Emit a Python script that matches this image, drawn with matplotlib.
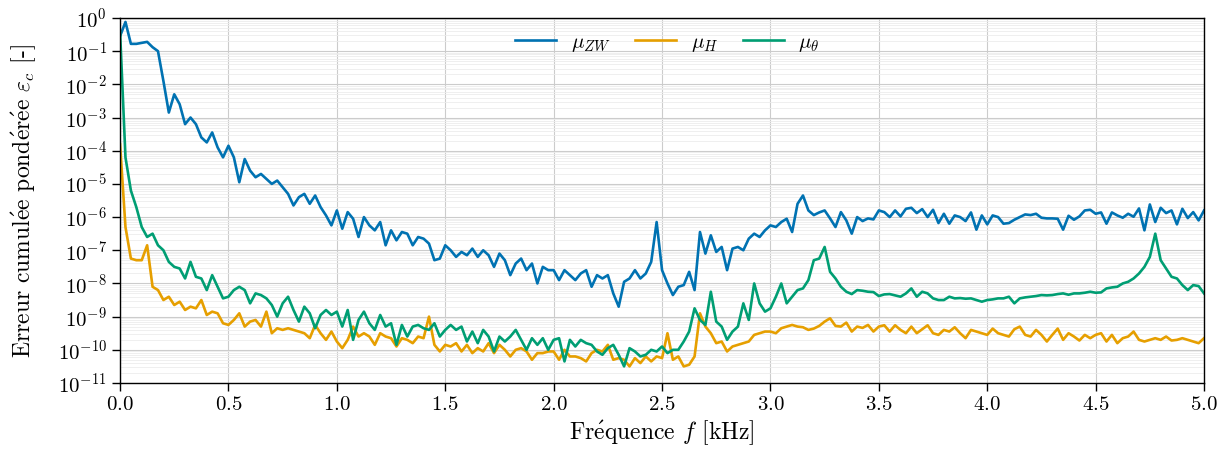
import numpy as np
import matplotlib
matplotlib.use("Agg")
import matplotlib.pyplot as plt
from matplotlib.ticker import LogLocator, MultipleLocator, NullFormatter

# log10 of the weighted cumulative error, sampled every 0.025 kHz from 0 to 5 kHz
freq_khz = np.linspace(0.0, 5.0, 201)

log_mu_zw = [
    -0.55, -0.12, -0.78, -0.78, -0.75, -0.72, -0.88, -1.0,
    -1.9, -2.85, -2.3, -2.6, -3.2, -3.0, -3.2, -3.6,
    -3.75, -3.45, -3.9, -4.2, -3.85, -4.2, -4.95, -4.25,
    -4.6, -4.8, -4.7, -4.85, -5.0, -4.9, -5.1, -5.3,
    -5.65, -5.4, -5.3, -5.6, -5.35, -5.7, -5.95, -6.25,
    -5.8, -6.35, -5.85, -6.05, -6.6, -6.0, -6.25, -6.4,
    -6.15, -6.85, -6.4, -6.7, -6.45, -6.5, -6.85, -6.6,
    -6.65, -6.8, -7.3, -7.25, -6.85, -7.0, -7.2, -7.05,
    -7.15, -6.95, -7.2, -7.0, -7.15, -7.5, -7.1, -7.3,
    -7.75, -7.4, -7.25, -7.6, -7.4, -8.0, -7.5, -7.6,
    -7.6, -7.9, -7.6, -7.75, -7.9, -7.7, -7.6, -8.1,
    -7.75, -7.85, -7.75, -8.3, -8.7, -7.95, -7.85, -7.6,
    -7.85, -7.7, -7.35, -6.15, -7.6, -8.0, -8.35, -8.1,
    -8.05, -7.65, -8.2, -6.45, -7.1, -6.55, -7.05, -6.9,
    -7.6, -6.95, -6.9, -7.0, -6.65, -6.5, -6.6, -6.4,
    -6.25, -6.3, -6.15, -6.05, -6.45, -5.6, -5.35, -5.8,
    -5.94, -5.86, -5.8, -6.04, -6.3, -5.85, -6.1, -6.5,
    -6.0, -6.12, -6.04, -6.07, -5.8, -5.85, -6.0, -5.8,
    -5.98, -5.75, -5.72, -5.88, -5.76, -6.0, -5.78, -6.18,
    -5.9, -6.2, -5.95, -6.0, -6.12, -5.86, -6.38, -5.95,
    -6.22, -5.95, -6.0, -6.2, -6.18, -6.08, -6.0, -5.92,
    -5.94, -5.9, -6.02, -6.04, -6.04, -6.05, -6.38, -5.96,
    -6.08, -5.98, -5.8, -5.78, -5.9, -5.86, -6.2, -5.86,
    -5.95, -6.02, -5.9, -5.99, -5.74, -6.4, -5.62, -6.15,
    -5.72, -5.88, -5.8, -6.22, -5.75, -6.03, -5.85, -6.1,
    -5.8,
]

log_mu_h = [
    -3.8, -6.3, -7.25, -7.3, -7.3, -6.85, -8.1, -8.2,
    -8.5, -8.4, -8.65, -8.55, -8.8, -8.7, -8.75, -8.5,
    -8.95, -8.85, -8.9, -9.2, -9.25, -9.1, -8.9, -9.3,
    -9.15, -9.1, -9.3, -8.85, -9.5, -9.35, -9.4, -9.35,
    -9.4, -9.45, -9.5, -9.65, -9.25, -9.5, -9.7, -9.45,
    -9.75, -9.95, -9.7, -9.3, -9.6, -9.5, -9.6, -9.85,
    -9.5, -9.6, -9.65, -9.9, -9.65, -9.7, -9.8, -9.6,
    -9.65, -9.0, -9.85, -10.05, -9.85, -9.9, -9.8, -10.05,
    -9.85, -10.1, -9.95, -10.05, -9.8, -10.1, -9.85, -10.0,
    -10.2, -10.0, -9.95, -10.05, -10.3, -10.1, -10.1, -10.05,
    -10.05, -10.3, -10.0, -10.2, -10.2, -10.25, -10.35, -10.1,
    -10.0, -10.05, -9.85, -10.3, -10.25, -10.3, -10.5, -10.25,
    -10.4, -10.2, -10.35, -10.2, -10.25, -9.5, -10.3, -10.2,
    -10.5, -10.45, -10.2, -8.9, -9.3, -9.5, -9.8, -9.75,
    -10.05, -9.9, -9.85, -9.8, -9.75, -9.55, -9.5, -9.45,
    -9.45, -9.5, -9.35, -9.3, -9.25, -9.3, -9.32, -9.4,
    -9.36, -9.28, -9.15, -9.05, -9.28, -9.3, -9.18, -9.45,
    -9.3, -9.34, -9.25, -9.45, -9.3, -9.26, -9.45, -9.26,
    -9.4, -9.5, -9.3, -9.5, -9.38, -9.26, -9.5, -9.55,
    -9.4, -9.45, -9.32, -9.5, -9.65, -9.4, -9.45, -9.5,
    -9.55, -9.36, -9.5, -9.55, -9.6, -9.38, -9.3, -9.55,
    -9.6, -9.4, -9.55, -9.75, -9.55, -9.36, -9.7, -9.5,
    -9.6, -9.72, -9.55, -9.65, -9.55, -9.5, -9.75, -9.55,
    -9.8, -9.65, -9.6, -9.45, -9.7, -9.75, -9.7, -9.65,
    -9.7, -9.6, -9.72, -9.7, -9.65, -9.7, -9.75, -9.8,
    -9.65,
]

log_mu_theta = [
    -0.4, -4.2, -5.2, -5.7, -6.3, -6.6, -6.5, -6.85,
    -7.0, -7.35, -7.5, -7.55, -7.85, -7.35, -7.8, -7.85,
    -8.2, -7.75, -8.1, -8.45, -8.4, -8.2, -8.1, -8.2,
    -8.6, -8.3, -8.35, -8.45, -8.65, -9.0, -8.6, -8.4,
    -8.8, -9.15, -8.7, -8.9, -9.35, -8.95, -8.8, -8.95,
    -8.85, -9.3, -8.8, -9.7, -9.1, -8.85, -9.2, -9.4,
    -8.95, -9.3, -9.2, -9.85, -9.25, -9.6, -9.3, -9.25,
    -9.35, -9.4, -9.2, -9.6, -9.4, -9.25, -9.4, -9.3,
    -9.75, -9.45, -9.8, -9.4, -9.6, -10.05, -9.6, -9.75,
    -9.6, -9.4, -9.7, -10.0, -9.65, -9.85, -9.65, -10.0,
    -9.7, -9.65, -10.35, -9.7, -9.9, -9.7, -9.8, -9.85,
    -10.05, -10.15, -9.95, -9.85, -10.15, -10.5, -9.95, -10.05,
    -10.2, -10.15, -10.0, -10.05, -9.9, -10.1, -10.0, -10.0,
    -9.75, -9.45, -8.75, -9.1, -9.25, -8.25, -9.15, -9.3,
    -9.7, -9.45, -9.3, -8.6, -9.1, -8.0, -8.6, -8.85,
    -8.75, -8.4, -8.0, -8.6, -8.4, -8.2, -8.15, -7.9,
    -7.3, -7.25, -6.9, -7.65, -7.85, -8.1, -8.25, -8.32,
    -8.2, -8.22, -8.25, -8.26, -8.38, -8.33, -8.32, -8.36,
    -8.4, -8.3, -8.15, -8.4, -8.25, -8.3, -8.45, -8.5,
    -8.5, -8.4, -8.45, -8.44, -8.46, -8.45, -8.5, -8.55,
    -8.5, -8.48, -8.45, -8.45, -8.4, -8.6, -8.45, -8.42,
    -8.4, -8.38, -8.35, -8.36, -8.35, -8.32, -8.3, -8.34,
    -8.3, -8.3, -8.28, -8.25, -8.28, -8.27, -8.15, -8.12,
    -8.1, -8.0, -7.95, -7.85, -7.7, -7.5, -7.2, -6.5,
    -7.3, -7.55, -7.8, -7.85, -8.05, -8.2, -8.05, -8.08,
    -8.3,
]

series_labels = [r"$\mu_{ZW}$", r"$\mu_H$", r"$\mu_\theta$"]
series_colors = ["#0072B2", "#E69F00", "#009E73"]

plt.rcParams["font.family"] = ["cmr10", "DejaVu Serif"]
plt.rcParams["mathtext.fontset"] = "cm"
plt.rcParams["axes.formatter.use_mathtext"] = True
plt.rcParams["axes.unicode_minus"] = False

fig = plt.figure(figsize=(12.3, 4.54), dpi=100)
ax = fig.add_axes([0.0976, 0.1564, 0.8813, 0.804])

for vals, lab, col in zip([log_mu_zw, log_mu_h, log_mu_theta], series_labels, series_colors):
    ax.plot(freq_khz, 10.0 ** np.asarray(vals), color=col, lw=1.9, label=lab)

ax.set_yscale("log")
ax.set_xlim(0, 5)
ax.set_ylim(1e-11, 1e0)
ax.xaxis.set_major_locator(MultipleLocator(0.5))
ax.yaxis.set_major_locator(LogLocator(base=10, numticks=20))
ax.yaxis.set_minor_locator(LogLocator(base=10, subs=np.arange(2, 10), numticks=100))
ax.yaxis.set_minor_formatter(NullFormatter())

ax.grid(True, which="major", color="#cccccc", lw=0.8)
ax.grid(True, which="minor", axis="y", color="#ececec", lw=0.6)
ax.set_axisbelow(True)

ax.tick_params(which="major", direction="out", length=6, width=1.0, labelsize=15,
               top=False, right=False)
ax.tick_params(which="minor", length=0)
for sp in ax.spines.values():
    sp.set_color("black")
    sp.set_linewidth(1.0)

ax.set_xlabel("Fr" + r"$\acute{\mathrm{e}}$" + r"quence $f$ [kHz]", fontsize=17, labelpad=3)
ax.set_ylabel("Erreur cumul" + r"$\acute{\mathrm{e}}$" + "e pond" + r"$\acute{\mathrm{e}}$" + "r"
              + r"$\acute{\mathrm{e}}$" + r"e $\varepsilon_c$ [-]", fontsize=17, labelpad=14)

ax.legend(loc="upper center", ncol=3, frameon=False, fontsize=15,
          handlelength=1.95, handletextpad=0.7, columnspacing=1.2,
          bbox_to_anchor=(0.505, 1.01))

fig.savefig("out.png", dpi=100)
